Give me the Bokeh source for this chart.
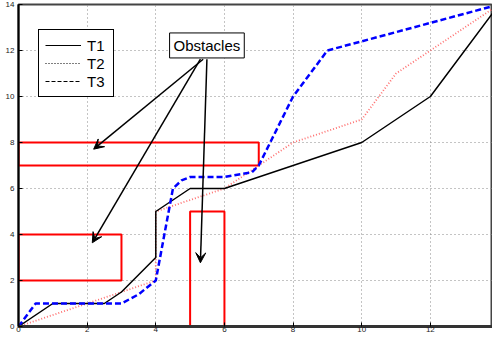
from bokeh.plotting import figure
from bokeh.models import (Range1d, Legend, LegendItem, Arrow, VeeHead, Label,
                          FixedTicker, ColumnDataSource)
from bokeh.embed import file_html
from bokeh.resources import INLINE

# ---- data ----
t1_x = [0, 1, 2.5, 3, 4, 4, 5, 6, 8, 10, 12, 14]
t1_y = [0, 1, 1, 1.5, 3, 5, 6, 6, 7, 8, 10, 14]

t2_x = [0, 4, 4, 6, 7, 8, 10, 11, 12, 14]
t2_y = [0, 2, 5, 6, 7, 8, 9, 11, 12, 14]

t3_x = [0, 0.5, 3, 3.5, 4, 4.15, 4.5, 4.75, 5, 6, 6.8, 7, 8, 9, 12, 14]
t3_y = [0, 1, 1, 1.4, 2, 3.2, 6, 6.35, 6.5, 6.5, 6.7, 7, 10, 12, 13.2, 14]

obs_left = [0, 0, 5]
obs_right = [7, 3, 6]
obs_bottom = [7, 2, 0]
obs_top = [8, 4, 5]

series_labels = ["T1", "T2", "T3"]
x_ticks = [0, 2, 4, 6, 8, 10, 12]
y_ticks = [0, 2, 4, 6, 8, 10, 12, 14]

note_text = "Obstacles"
note_x, note_y = 5.49, 12.22
arrow_x0 = [5.38, 5.30, 5.49]
arrow_y0 = [11.62, 11.62, 11.62]
arrow_x1 = [2.19, 2.15, 5.30]
arrow_y1 = [7.71, 3.64, 2.77]

FONT = "Liberation Sans"

p = figure(width=492, height=334, output_backend="svg", toolbar_location=None,
           x_range=Range1d(0, 13.81), y_range=Range1d(0, 14),
           min_border_left=18, min_border_right=0, min_border_top=4,
           min_border_bottom=0)

p.background_fill_color = "white"
p.border_fill_color = "white"
p.outline_line_color = "#444444"
p.outline_line_width = 2

for ax in (p.xaxis[0], p.yaxis[0]):
    ax.major_tick_in = 4
    ax.major_tick_out = 0
    ax.minor_tick_in = 0
    ax.minor_tick_out = 0
    ax.major_label_text_font_size = "8px"
    ax.major_label_text_font = FONT
    ax.major_label_text_color = "#222222"
    ax.axis_line_color = "black"
    ax.axis_line_width = 2
    ax.major_tick_line_color = "black"
p.yaxis.major_label_standoff = 4
p.xaxis.major_label_standoff = 0
p.xaxis.ticker = FixedTicker(ticks=x_ticks)
p.yaxis.ticker = FixedTicker(ticks=y_ticks)
p.xaxis.axis_line_color = "#333333"
p.xaxis.axis_line_width = 3

p.grid.grid_line_color = "#888888"
p.grid.grid_line_dash = "1 3"
p.grid.grid_line_width = 1

# obstacles
p.quad(left=obs_left, right=obs_right, bottom=obs_bottom, top=obs_top,
       fill_alpha=0, line_color="red", line_width=2)

# trajectories
p.line(t2_x, t2_y, line_color="#ff7070", line_width=1.8, line_dash="1 2")
p.line(t1_x, t1_y, line_color="black", line_width=1.5)
p.line(t3_x, t3_y, line_color="blue", line_width=2.5, line_dash="6 3")

# legend with black samples (placeholder renderers outside the visible range)
src_off = ColumnDataSource(data=dict(x=[-10, -9], y=[-10, -10]))
r_a = p.line("x", "y", source=src_off, line_color="black", line_width=1)
r_b = p.line("x", "y", source=src_off, line_color="black", line_width=1.2, line_dash="1 2")
r_c = p.line("x", "y", source=src_off, line_color="black", line_width=1, line_dash="4 2")
legend = Legend(items=[LegendItem(label=series_labels[0], renderers=[r_a]),
                       LegendItem(label=series_labels[1], renderers=[r_b]),
                       LegendItem(label=series_labels[2], renderers=[r_c])],
                location=(20, 229), margin=0, padding=6, spacing=0,
                label_height=18, glyph_height=16, glyph_width=36,
                label_standoff=6, label_text_font_size="15px",
                label_text_font=FONT, label_text_color="black",
                border_line_color="black",
                border_line_width=1, border_line_alpha=1,
                background_fill_color="white", background_fill_alpha=1)
p.add_layout(legend)

# arrows
arrow_src = ColumnDataSource(data=dict(x0=arrow_x0, y0=arrow_y0, x1=arrow_x1, y1=arrow_y1))
p.add_layout(Arrow(source=arrow_src, x_start="x0", y_start="y0", x_end="x1", y_end="y1",
                   line_color="black", line_width=1.5,
                   end=VeeHead(size=10, fill_color="black", line_color="black", line_width=1)))

p.add_layout(Label(x=note_x, y=note_y, text=note_text, text_align="center",
                   text_baseline="middle", text_font_size="15px", text_font=FONT,
                   text_color="black", background_fill_color="white",
                   border_line_color="black", border_line_width=1, padding=4))

open("out.html", "w").write(file_html(p, INLINE))
